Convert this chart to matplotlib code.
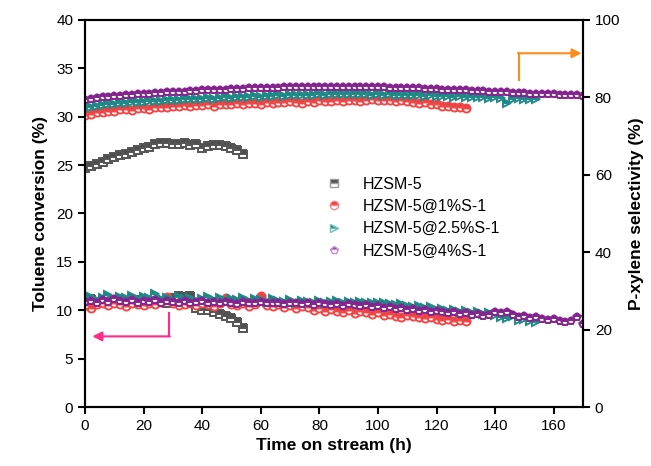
import numpy as np
import matplotlib
matplotlib.use('Agg')
import matplotlib.pyplot as plt
from matplotlib.lines import Line2D

plt.rcParams['font.family'] = ['Liberation Sans', 'DejaVu Sans']

step = 2  # sampling interval (h)

labels = ['HZSM-5', 'HZSM-5@1%S-1', 'HZSM-5@2.5%S-1', 'HZSM-5@4%S-1']

# p-xylene selectivity (%), right axis
sel_h = [61.8, 62.3, 62.8, 63.3, 64.0, 64.5, 65.0, 65.5, 66.0, 66.5,
         67.0, 67.3, 68.0, 68.3, 68.3, 68.0, 68.0, 68.3, 67.8, 68.0,
         66.8, 67.5, 67.8, 67.8, 67.5, 67.0, 66.3, 65.3]
sel_1 = [75.4, 75.8, 76.1, 76.3, 76.6, 76.4, 76.9, 77.0, 76.8, 77.2,
         77.3, 77.1, 77.5, 77.6, 77.4, 77.8, 77.7, 78.0, 77.8, 78.1,
         78.0, 78.2, 77.9, 78.3, 78.4, 78.2, 78.5, 78.3, 78.6, 78.5,
         78.4, 78.7, 78.6, 78.9, 78.7, 79.0, 78.8, 78.6, 79.1, 78.9,
         79.2, 79.0, 79.1, 79.3, 79.0, 79.2, 79.4, 79.1, 79.3, 79.5,
         79.2, 79.4, 79.3, 79.1, 79.3, 79.0, 78.8, 78.6, 78.7, 78.3,
         78.2, 77.9, 77.8, 77.5, 77.4, 77.2]
sel_25 = [77.2, 77.6, 77.9, 78.1, 78.3, 78.2, 78.5, 78.6, 78.8, 78.7,
          78.9, 79.0, 79.1, 79.0, 79.3, 79.4, 79.3, 79.5, 79.6, 79.5,
          79.7, 79.8, 79.7, 79.9, 80.0, 79.9, 80.1, 80.0, 80.2, 80.3,
          80.2, 80.4, 80.3, 80.5, 80.4, 80.6, 80.5, 80.7, 80.6, 80.7,
          80.8, 80.7, 80.8, 80.9, 80.8, 80.9, 80.8, 80.9, 80.8, 80.7,
          80.8, 80.7, 80.8, 80.6, 80.7, 80.6, 80.5, 80.6, 80.4, 80.5,
          80.4, 80.3, 80.4, 80.2, 80.3, 80.1, 80.2, 80.0, 80.1, 79.9,
          80.0, 79.8, 78.6, 79.7, 79.8, 79.6, 79.5, 79.6]
sel_4 = [79.3, 79.6, 79.8, 80.0, 80.1, 80.3, 80.4, 80.6, 80.7, 80.8,
         80.9, 81.0, 81.1, 81.2, 81.3, 81.4, 81.5, 81.5, 81.6, 81.7,
         81.8, 81.8, 81.9, 82.0, 82.0, 82.1, 82.2, 82.1, 82.3, 82.3,
         82.4, 82.4, 82.5, 82.5, 82.6, 82.6, 82.6, 82.7, 82.7, 82.7,
         82.8, 82.7, 82.8, 82.8, 82.7, 82.8, 82.7, 82.7, 82.6, 82.7,
         82.6, 82.6, 82.5, 82.5, 82.4, 82.4, 82.3, 82.3, 82.2, 82.2,
         82.1, 82.0, 82.0, 81.9, 81.8, 81.8, 81.7, 81.6, 81.6, 81.5,
         81.4, 81.4, 81.3, 81.2, 81.2, 81.1, 81.0, 81.0, 80.9, 80.8,
         80.8, 80.7, 80.6, 80.6, 80.5, 80.4]

# toluene conversion (%), left axis
conv_h = [11.0, 11.2, 10.9, 11.1, 11.0, 10.8, 11.2, 11.0, 10.9, 11.1,
          10.8, 11.0, 11.2, 10.9, 10.8, 11.3, 11.5, 11.4, 11.5, 10.2,
          10.0, 10.0, 9.8, 9.6, 9.4, 9.2, 8.8, 8.2]
conv_1 = [10.5, 10.2, 10.6, 10.8, 10.5, 10.7, 10.6, 10.4, 10.8, 10.6,
          10.5, 10.7, 10.6, 10.9, 11.4, 10.7, 10.5, 10.6, 10.8, 10.5,
          10.7, 10.6, 10.4, 10.7, 11.3, 10.6, 10.5, 10.7, 10.4, 10.6,
          11.5, 10.5, 10.4, 10.6, 10.3, 10.5, 10.2, 10.4, 10.3, 10.0,
          10.2, 9.9, 10.1, 9.9, 9.8, 10.0, 9.7, 9.9, 9.8, 9.6,
          9.8, 9.5, 9.6, 9.4, 9.3, 9.5, 9.4, 9.3, 9.2, 9.3,
          9.1, 9.0, 9.1, 8.9, 9.0, 8.9]
conv_25 = [11.2, 11.4, 11.1, 11.3, 11.6, 11.2, 11.4, 11.3, 11.5, 11.2,
           11.4, 11.3, 11.7, 11.2, 11.3, 11.1, 11.4, 11.2, 11.3, 11.0,
           11.2, 11.4, 11.1, 11.3, 11.0, 11.2, 11.1, 11.3, 11.0, 11.2,
           11.1, 10.9, 11.2, 11.0, 10.9, 11.1, 10.8, 11.0, 10.9, 10.7,
           11.0, 10.8, 10.9, 11.0, 10.8, 10.9, 10.7, 10.9, 10.8, 10.7,
           10.7, 10.8, 10.6, 10.5, 10.6, 10.4, 10.3, 10.4, 10.2, 10.3,
           10.0, 10.1, 9.9, 10.0, 9.8, 9.9, 9.7, 9.8, 9.6, 9.7,
           9.5, 9.3, 9.2, 9.4, 9.0, 9.1, 8.9, 8.8]
conv_4 = [10.9, 11.0, 10.8, 11.1, 10.9, 11.2, 11.0, 10.9, 11.1, 10.8,
          11.0, 10.9, 11.1, 10.8, 11.0, 10.9, 10.8, 11.0, 10.7, 10.9,
          11.0, 10.8, 10.9, 10.7, 10.9, 10.8, 10.6, 10.9, 10.8, 10.7,
          10.9, 10.8, 10.7, 10.8, 10.6, 10.7, 10.8, 10.6, 10.7, 10.5,
          10.7, 10.6, 10.5, 10.6, 10.4, 10.6, 10.5, 10.4, 10.5, 10.3,
          10.4, 10.2, 10.3, 10.1, 10.2, 10.0, 10.1, 9.9, 10.0, 9.8,
          9.9, 9.8, 9.7, 9.8, 9.6, 9.7, 9.5, 9.6, 9.4, 9.5,
          9.8, 9.7, 9.8, 9.5, 9.3, 9.4, 9.2, 9.3, 9.1, 9.0,
          9.1, 8.9, 8.8, 8.9, 9.3, 8.6]

sel_all = [sel_h, sel_1, sel_25, sel_4]
conv_all = [conv_h, conv_1, conv_25, conv_4]
markers = ['s', 'o', '>', 'p']
faces = ['#4d4d4d', '#f03c3c', '#17827f', '#7d1a87']
edges = ['#555555', '#f04848', '#1f8a87', '#85258f']
light = ['#9a9a9a', '#f58a8a', '#6fbfbc', '#c38fcd']

fig = plt.figure(figsize=(6.51, 4.66), dpi=100)
ax = fig.add_axes([0.1306, 0.1266, 0.765, 0.8305])
ax2 = ax.twinx()

handles = []
for s, c, m, fc, ec, lc, lab in zip(sel_all, conv_all, markers, faces, edges, light, labels):
    kw = dict(ls='none', marker=m, ms=5.8, fillstyle='top', mfc=fc,
              mfcalt='white', mec=ec, mew=1.4)
    t = np.arange(len(c)) * step
    ax.plot(t, c, **kw)
    t2 = np.arange(len(s)) * step
    ax2.plot(t2, s, **kw)
    handles.append(Line2D([], [], ls='none', marker=m, ms=6, fillstyle='top',
                          mfc=fc, mfcalt='white', mec=lc, mew=1.0, label=lab))

ax.set_xlim(0, 170)
ax.set_ylim(0, 40)
ax2.set_ylim(0, 100)
ax.set_xticks(np.arange(0, 161, 20))
ax.set_yticks(np.arange(0, 41, 5))
ax2.set_yticks(np.arange(0, 101, 20))

for a in (ax, ax2):
    for sp in a.spines.values():
        sp.set_linewidth(1.5)
    a.tick_params(direction='out', length=5, width=1.5, labelsize=11)

ax.set_xlabel('Time on stream (h)', fontsize=12.5, fontweight='bold', labelpad=4)
ax.set_ylabel('Toluene conversion (%)', fontsize=12.5, fontweight='bold', labelpad=6)
ax2.set_ylabel('P-xylene selectivity (%)', fontsize=12.5, fontweight='bold', labelpad=6)

# pink arrow -> left axis
pink = '#ff2a8a'
ax.plot([28.5, 28.5], [9.7, 7.3], color=pink, lw=1.5)
ax.annotate('', xy=(2.5, 7.3), xytext=(29.0, 7.3),
            arrowprops=dict(arrowstyle='-|>', color=pink, lw=1.5,
                            mutation_scale=14, shrinkA=0, shrinkB=0))

# orange arrow -> right axis
orange = '#ff8c1a'
ax2.plot([148.3, 148.3], [84.5, 91.4], color=orange, lw=1.5)
ax2.annotate('', xy=(169.5, 91.4), xytext=(147.8, 91.4),
             arrowprops=dict(arrowstyle='-|>', color=orange, lw=1.5,
                             mutation_scale=14, shrinkA=0, shrinkB=0))

fig.legend(handles=handles, loc='center left', bbox_to_anchor=(0.467, 0.533),
           frameon=False, fontsize=11.5, labelspacing=0.45, handletextpad=0.8)

fig.savefig('out.png', dpi=100)
